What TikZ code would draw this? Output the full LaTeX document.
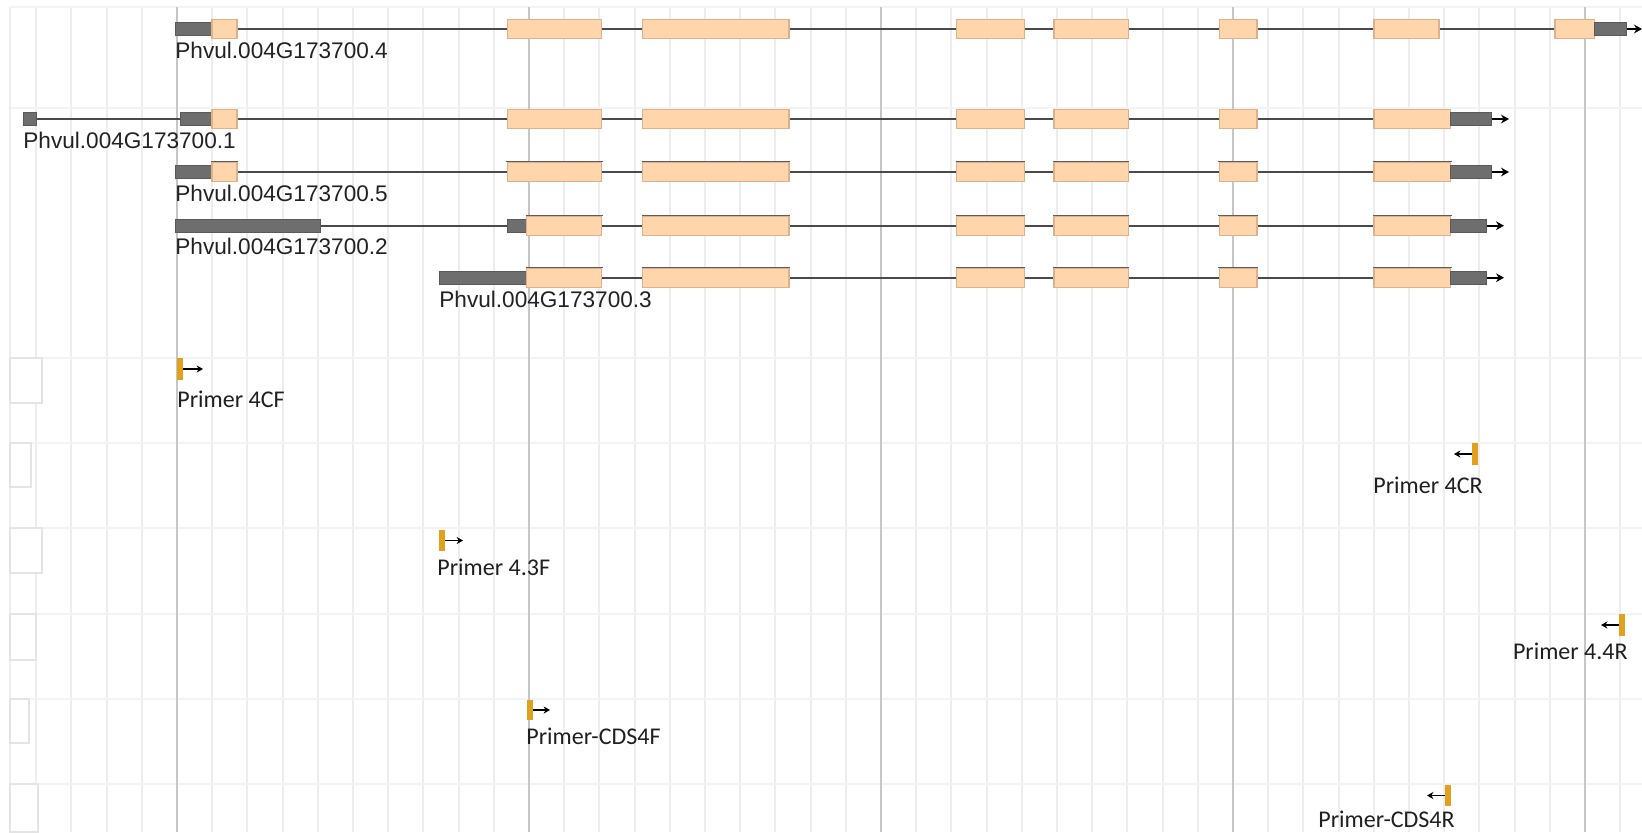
\documentclass[tikz,border=0pt]{standalone}
\usepackage{fontspec}
\setmainfont{Liberation Sans}
\newfontfamily\primerfont{Carlito}
\usetikzlibrary{arrows.meta}
\definecolor{exonfill}{HTML}{FFD6AC}
\definecolor{exonedge}{HTML}{DDB08E}
\definecolor{utrfill}{HTML}{6E6E6E}
\definecolor{utredge}{HTML}{5A5A5A}
\definecolor{introncol}{HTML}{4A4A4A}
\definecolor{gridminor}{HTML}{EDEDED}
\definecolor{gridmajor}{HTML}{C6C6C6}
\definecolor{gridh}{HTML}{F3F3F3}
\definecolor{boxedge}{HTML}{E4E4E4}
\definecolor{primerbar}{HTML}{E2A11C}
\definecolor{labeltext}{HTML}{222222}
\newcommand{\gexon}[3]{\draw[exon] ({#1},{#3-9.5}) rectangle ({#2},{#3+9.5});}
\newcommand{\gtopl}[3]{\draw[topline] ({#1-1},{#3-10.3}) -- ({#2+1},{#3-10.3});}
\newcommand{\gutr}[3]{\draw[utr] ({#1},{#3-6.3}) rectangle ({#2},{#3+6.3});}
\begin{document}
\begin{tikzpicture}[x=0.5pt,y=-0.5pt,
  gminor/.style={draw=gridminor,line width=1pt},
  gmajor/.style={draw=gridmajor,line width=1pt},
  ghline/.style={draw=gridh,line width=1pt},
  lbox/.style={draw=boxedge,line width=0.6pt,fill=white},
  exon/.style={fill=exonfill,draw=exonedge,line width=0.6pt},
  utr/.style={fill=utrfill,draw=utredge,line width=0.5pt},
  topline/.style={draw=introncol!90,line width=0.7pt},
  intron/.style={draw=introncol,line width=1.1pt},
  tarrow/.style={draw=black,line width=0.9pt,-{Stealth[length=4pt,width=4.4pt]}},
  parrow/.style={draw=black,line width=0.8pt,-{Stealth[length=3.2pt,width=3.6pt]}},
  pbar/.style={fill=primerbar},
  glabel/.style={anchor=base west,inner sep=0pt,font=\fontsize{11.3}{13}\selectfont,text=labeltext},
  plabel/.style={inner sep=0pt,font=\primerfont\fontsize{12}{14}\selectfont,text=black!88}]
\useasboundingbox (0,0) rectangle (1642,832);
\fill[white] (0,0) rectangle (1642,832);
% ---- grid ----
\foreach \k in {-4,...,41}{\pgfmathsetmacro\gx{177+35.2*\k}\draw[gminor] (\gx,7) -- (\gx,832);}
\draw[gminor] (10,7) -- (10,832);
\foreach \yy in {7,108,358,443,528,614,699,784}{\draw[ghline] (10,\yy) -- (1642,\yy);}
\foreach \k in {0,10,20,30,40}{\pgfmathsetmacro\gx{177+35.2*\k}\draw[gmajor] (\gx,7) -- (\gx,832);}
% left track boxes
\draw[lbox] (10,358) rectangle (42,403);
\draw[lbox] (10,443) rectangle (31,487);
\draw[lbox] (10,528) rectangle (42,573);
\draw[lbox] (10,614) rectangle (36,660);
\draw[lbox] (10,699) rectangle (29,743);
\draw[lbox] (10,784) rectangle (38,832);
% ---- transcript .4 (y=29) ----
\draw[intron] (212,29) -- (1594,29);
\gutr{175}{212}{29}
\gexon{212}{237}{29}
\gexon{507.3}{601.7}{29}\gexon{642.7}{789}{29}\gexon{956.7}{1024.3}{29}
\gexon{1054}{1128.3}{29}\gexon{1219.3}{1257}{29}\gexon{1374}{1439}{29}\gexon{1555}{1594.3}{29}
\gutr{1594.3}{1626.7}{29}
\coordinate (e4) at (1626.7,29); \coordinate (t4) at (1642,29);
\draw[tarrow] (e4) -- (t4);
\node[glabel] (l4) at (175,58) {Phvul.004G173700.4};
% ---- transcript .1 (y=119) ----
\draw[intron] (30,119) -- (1451,119);
\gutr{23}{36}{119}
\gutr{180}{212}{119}
\gexon{212}{237}{119}
\gexon{507.3}{601.7}{119}\gexon{642.7}{789}{119}\gexon{956.7}{1024.3}{119}
\gexon{1054}{1128.3}{119}\gexon{1219.3}{1257}{119}\gexon{1374}{1450.7}{119}
\gutr{1450.7}{1491.7}{119}
\coordinate (e1) at (1491.7,119); \coordinate (t1) at (1509,119);
\draw[tarrow] (e1) -- (t1);
\node[glabel] (l1) at (23,148) {Phvul.004G173700.1};
% ---- transcript .5 (y=172) ----
\draw[intron] (212,172) -- (1451,172);
\gutr{175}{212}{172}
\foreach \a/\b in {212/237,507.3/601.7,642.7/789,956.7/1024.3,1054/1128.3,1219.3/1257,1374/1450.7}{\gexon{\a}{\b}{172}\gtopl{\a}{\b}{172}}
\gutr{1450.7}{1491.7}{172}
\coordinate (e5) at (1491.7,172); \coordinate (t5) at (1509,172);
\draw[tarrow] (e5) -- (t5);
\node[glabel] (l5) at (175,201) {Phvul.004G173700.5};
% ---- transcript .2 (y=225.7) ----
\draw[intron] (320,225.7) -- (1451,225.7);
\gutr{175}{320.7}{225.7}
\gutr{507.3}{526.7}{225.7}
\foreach \a/\b in {526.7/601.7,642.7/789,956.7/1024.3,1054/1128.3,1219.3/1257,1374/1450.7}{\gexon{\a}{\b}{225.7}\gtopl{\a}{\b}{225.7}}
\gutr{1450.7}{1486.7}{225.7}
\coordinate (e2) at (1486.7,225.7); \coordinate (t2) at (1504,225.7);
\draw[tarrow] (e2) -- (t2);
\node[glabel] (l2) at (175,254) {Phvul.004G173700.2};
% ---- transcript .3 (y=277.7) ----
\draw[intron] (600,277.7) -- (1451,277.7);
\gutr{439}{526.7}{277.7}
\foreach \a/\b in {526.7/601.7,642.7/789,956.7/1024.3,1054/1128.3,1219.3/1257,1374/1450.7}{\gexon{\a}{\b}{277.7}\gtopl{\a}{\b}{277.7}}
\gutr{1450.7}{1486.7}{277.7}
\coordinate (e3) at (1486.7,277.7); \coordinate (t3) at (1504,277.7);
\draw[tarrow] (e3) -- (t3);
\node[glabel] (l3) at (439,307) {Phvul.004G173700.3};
% ---- primers ----
% Primer 4CF
\fill[pbar] (177,358) rectangle (183,380);
\coordinate (p1s) at (183,369); \coordinate (p1t) at (203,369);
\draw[parrow] (p1s) -- (p1t);
\node[plabel,anchor=base west] (p1) at (177,407) {Primer 4CF};
% Primer 4CR
\fill[pbar] (1471.5,443) rectangle (1477.5,465);
\coordinate (p2s) at (1471.5,454); \coordinate (p2t) at (1454,454);
\draw[parrow] (p2s) -- (p2t);
\node[plabel,anchor=base east] (p2) at (1483,493) {Primer 4CR};
% Primer 4.3F
\fill[pbar] (439,530) rectangle (445,551);
\coordinate (p3s) at (445,540.5); \coordinate (p3t) at (463,540.5);
\draw[parrow] (p3s) -- (p3t);
\node[plabel,anchor=base west] (p3) at (437,575) {Primer 4.3F};
% Primer 4.4R
\fill[pbar] (1619,614) rectangle (1625,636);
\coordinate (p4s) at (1619,625); \coordinate (p4t) at (1601,625);
\draw[parrow] (p4s) -- (p4t);
\node[plabel,anchor=base east] (p4) at (1628,659) {Primer 4.4R};
% Primer-CDS4F
\fill[pbar] (527,700) rectangle (533,720);
\coordinate (p5s) at (533,710); \coordinate (p5t) at (550,710);
\draw[parrow] (p5s) -- (p5t);
\node[plabel,anchor=base west] (p5) at (526,744) {Primer-CDS4F};
% Primer-CDS4R
\fill[pbar] (1445,785) rectangle (1451,806);
\coordinate (p6s) at (1445,795.5); \coordinate (p6t) at (1427,795.5);
\draw[parrow] (p6s) -- (p6t);
\node[plabel,anchor=base east] (p6) at (1455,827) {Primer-CDS4R};
\end{tikzpicture}
\end{document}
